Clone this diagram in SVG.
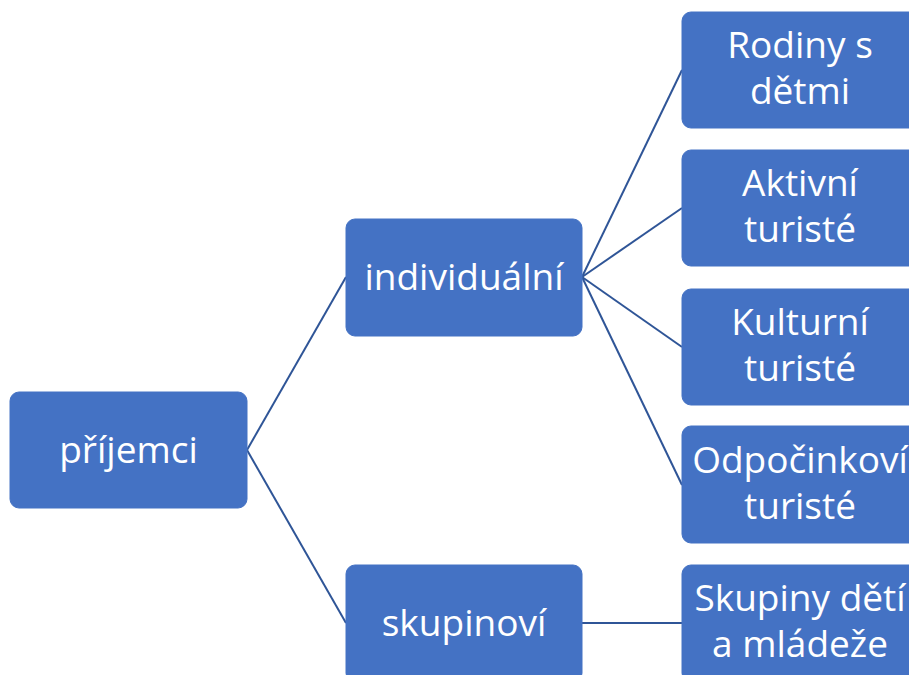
<svg xmlns="http://www.w3.org/2000/svg" width="909" height="675" viewBox="0 0 909 675">
<style>
.box{fill:#4472C4;stroke:#4472C4;stroke-width:1}
.t{fill:#fff;font-family:"Open Sans","Noto Sans","Liberation Sans",sans-serif;font-size:37px;text-anchor:middle}
.c{stroke:#2F5597;stroke-width:2;fill:none}
</style>
<rect width="909" height="675" fill="#fff"/>
<g id="connectors">
<line class="c" x1="247" y1="450" x2="346" y2="277"/>
<line class="c" x1="247" y1="450" x2="346" y2="623"/>
<line class="c" x1="582" y1="277" x2="682" y2="70"/>
<line class="c" x1="582" y1="277" x2="682" y2="208"/>
<line class="c" x1="582" y1="277" x2="682" y2="347"/>
<line class="c" x1="582" y1="277" x2="682" y2="485"/>
<line class="c" x1="582" y1="623" x2="682" y2="623"/>
</g>
<g id="prijemci"><rect class="box" x="10" y="392" width="237" height="116" rx="9"/><text class="t" x="128.5" y="463">příjemci</text></g>
<g id="individualni"><rect class="box" x="346" y="219" width="236" height="117" rx="9"/><text class="t" x="464" y="290">individuální</text></g>
<g id="skupinovi"><rect class="box" x="346" y="565" width="236" height="117" rx="9"/><text class="t" x="464" y="636">skupinoví</text></g>
<g id="rodiny"><rect class="box" x="682" y="12" width="236" height="116" rx="9"/><text class="t" x="800" y="58">Rodiny s</text><text class="t" x="800" y="104">dětmi</text></g>
<g id="aktivni"><rect class="box" x="682" y="150" width="236" height="116" rx="9"/><text class="t" x="800" y="196">Aktivní</text><text class="t" x="800" y="242">turisté</text></g>
<g id="kulturni"><rect class="box" x="682" y="289" width="236" height="116" rx="9"/><text class="t" x="800" y="335">Kulturní</text><text class="t" x="800" y="381">turisté</text></g>
<g id="odpocinkovi"><rect class="box" x="682" y="426" width="236" height="117" rx="9"/><text class="t" x="800" y="473">Odpočinkoví</text><text class="t" x="800" y="519">turisté</text></g>
<g id="skupiny"><rect class="box" x="682" y="565" width="236" height="117" rx="9"/><text class="t" x="800" y="611">Skupiny dětí</text><text class="t" x="800" y="657">a mládeže</text></g>
</svg>
